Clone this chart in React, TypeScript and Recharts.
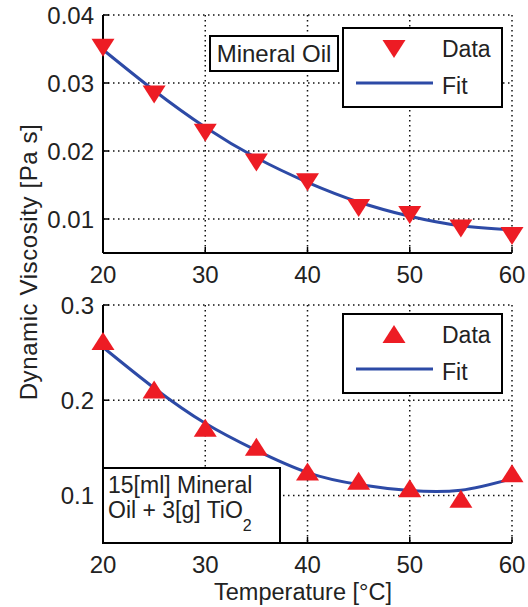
import { ComposedChart, Scatter, Line, XAxis, YAxis, CartesianGrid, Legend } from 'recharts';

const temps = [20, 25, 30, 35, 40, 45, 50, 55, 60];
const oilVisc = [0.0352, 0.0283, 0.0227, 0.0183, 0.0154, 0.0116, 0.0106, 0.0086, 0.0075];
const oilFit = [0.0349, 0.0289, 0.0235, 0.019, 0.0154, 0.0125, 0.0104, 0.009, 0.0084];
const mixVisc = [0.2623, 0.2113, 0.1711, 0.151, 0.125, 0.1155, 0.1074, 0.0965, 0.1232];
const mixFit = [0.2556, 0.2128, 0.1757, 0.1472, 0.124, 0.1115, 0.1052, 0.1055, 0.1176];

const tempTicks = [20, 30, 40, 50, 60];
const oilTicks = [0.01, 0.02, 0.03, 0.04];
const mixTicks = [0.1, 0.2, 0.3];

const RED = '#ed1c24';
const BLUE = '#2d4aa6';
const INK = '#222';
const FONT = '"Liberation Sans", Arial, sans-serif';

const oilData = temps.map((t, i) => ({ t, visc: oilVisc[i], fit: oilFit[i] }));
const mixData = temps.map((t, i) => ({ t, visc: mixVisc[i], fit: mixFit[i] }));

// triangle markers, centred on their bounding box like matlab's 'v' and '^'
const DownTri = ({ cx, cy }: any) => (
  <polygon points={`${cx - 11.5},${cy - 9} ${cx + 11.5},${cy - 9} ${cx},${cy + 9}`} fill={RED} />
);
const UpTri = ({ cx, cy }: any) => (
  <polygon points={`${cx - 11.5},${cy + 9} ${cx + 11.5},${cy + 9} ${cx},${cy - 9}`} fill={RED} />
);

// ticks point inward, labels sit outside the box
const BottomTick = ({ x, y, payload }: any) => (
  <g>
    <line x1={x} x2={x} y1={y} y2={y - 6} stroke="#000" strokeWidth={1.5} />
    <text x={x} y={y + 30} textAnchor="middle" fontSize={24} fontFamily={FONT} fill={INK}>
      {payload.value}
    </text>
  </g>
);
const TopTick = ({ x, y }: any) => <line x1={x} x2={x} y1={y} y2={y + 6} stroke="#000" strokeWidth={1.5} />;
const LeftTick = ({ x, y, payload }: any) => (
  <g>
    <line x1={x} x2={x + 6} y1={y} y2={y} stroke="#000" strokeWidth={1.5} />
    <text x={x - 9} y={y + 8.5} textAnchor="end" fontSize={24} fontFamily={FONT} fill={INK}>
      {String(payload.value)}
    </text>
  </g>
);
const RightTick = ({ x, y }: any) => <line x1={x} x2={x - 6} y1={y} y2={y} stroke="#000" strokeWidth={1.5} />;

const LegendBox = ({ up }: { up: boolean }) => (
  <svg width={161} height={81} style={{ display: 'block' }}>
    <rect x={1} y={1} width={159} height={79} fill="#fff" stroke="#000" strokeWidth={2} />
    {up ? <UpTri cx={52} cy={21} /> : <DownTri cx={52} cy={22} />}
    <text x={100} y={30} fontSize={23} fontFamily={FONT} fill={INK}>Data</text>
    <line x1={14} x2={91} y1={56} y2={56} stroke={BLUE} strokeWidth={3} />
    <text x={100} y={67} fontSize={23} fontFamily={FONT} fill={INK}>Fit</text>
  </svg>
);

function Panel({ data, ticks, domain, up, height, top, bottom, legendTop }: any) {
  const axisLine = { stroke: '#000', strokeWidth: 2 };
  return (
    <ComposedChart width={528} height={height} data={data} margin={{ top, right: 16, bottom, left: 0 }}>
      <CartesianGrid stroke="#111" strokeDasharray="1.5 3.5" strokeWidth={1.5} />
      <XAxis
        dataKey="t"
        type="number"
        domain={[20, 60]}
        ticks={tempTicks}
        interval={0}
        height={40}
        tickSize={0}
        tickMargin={0}
        axisLine={axisLine}
        tick={<BottomTick />}
      />
      <XAxis
        xAxisId="top"
        orientation="top"
        type="number"
        domain={[20, 60]}
        allowDataOverflow
        ticks={tempTicks}
        interval={0}
        height={0}
        tickSize={0}
        tickMargin={0}
        axisLine={axisLine}
        tick={<TopTick />}
      />
      <YAxis
        type="number"
        domain={domain}
        ticks={ticks}
        interval={0}
        width={103}
        tickSize={0}
        tickMargin={0}
        axisLine={axisLine}
        tick={<LeftTick />}
      />
      <YAxis
        yAxisId="r"
        orientation="right"
        type="number"
        domain={domain}
        allowDataOverflow
        ticks={ticks}
        interval={0}
        width={0}
        tickSize={0}
        tickMargin={0}
        axisLine={axisLine}
        tick={<RightTick />}
      />
      <Scatter
        dataKey="visc"
        fill={RED}
        isAnimationActive={false}
        shape={(p: any) => (up ? <UpTri cx={p.cx} cy={p.cy} /> : <DownTri cx={p.cx} cy={p.cy} />)}
      />
      <Line dataKey="fit" type="natural" stroke={BLUE} strokeWidth={3} dot={false} isAnimationActive={false} />
      <Legend
        layout="vertical"
        align="center"
        verticalAlign="middle"
        wrapperStyle={{ left: 342, top: legendTop, width: 161, height: 81 }}
        content={() => <LegendBox up={up} />}
      />
    </ComposedChart>
  );
}

export default function App() {
  return (
    <div style={{ position: 'absolute', left: 0, top: 0, width: 528, height: 607, background: '#fff', fontFamily: FONT }}>
      <div style={{ position: 'absolute', left: 0, top: 0 }}>
        <Panel data={oilData} ticks={oilTicks} domain={[0.005, 0.04]} up={false} height={290} top={15} bottom={-3} legendTop={27} />
      </div>
      <div style={{ position: 'absolute', left: 0, top: 290 }}>
        <Panel data={mixData} ticks={mixTicks} domain={[0.05, 0.3]} up height={317} top={15} bottom={24} legendTop={23} />
      </div>

      {/* text boxes inside the plots */}
      <svg width={528} height={607} style={{ position: 'absolute', left: 0, top: 0, pointerEvents: 'none' }}>
        <rect x={210} y={36} width={128} height={35} fill="#fff" stroke="#000" strokeWidth={2} />
        <text x={274} y={62} textAnchor="middle" fontSize={24} fontFamily={FONT} fill={INK}>Mineral Oil</text>

        <rect x={103} y={468} width={177} height={75} fill="#fff" stroke="#000" strokeWidth={2} />
        <text x={108} y={493} fontSize={23} fontFamily={FONT} fill={INK}>15[ml] Mineral</text>
        <text x={108} y={518} fontSize={23} fontFamily={FONT} fill={INK}>
          Oil + 3[g] TiO<tspan fontSize={16} dy={13}>2</tspan>
        </text>

        <text x={303} y={600} textAnchor="middle" fontSize={23.5} fontFamily={FONT} fill={INK}>
          Temperature [°C]
        </text>
        <text
          x={0}
          y={0}
          transform="translate(37 262) rotate(-90)"
          textAnchor="middle"
          fontSize={24}
          letterSpacing={0.6}
          fontFamily={FONT}
          fill={INK}
        >
          Dynamic Viscosity [Pa s]
        </text>
      </svg>
    </div>
  );
}
